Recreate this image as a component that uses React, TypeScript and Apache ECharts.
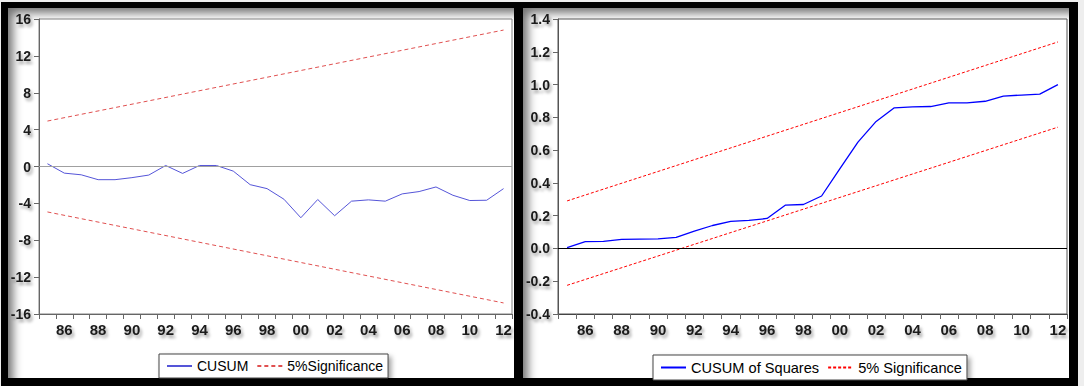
import React, { useEffect, useRef } from "react";
import * as echarts from "echarts";

// ---- data ----
const years = [
  "85", "86", "87", "88", "89", "90", "91", "92", "93", "94",
  "95", "96", "97", "98", "99", "00", "01", "02", "03", "04",
  "05", "06", "07", "08", "09", "10", "11", "12",
];
const cusum = [
  0.3, -0.72, -0.9, -1.43, -1.43, -1.21, -0.93, 0.11, -0.75, 0.11,
  0.11, -0.5, -1.97, -2.4, -3.55, -5.56, -3.58, -5.34, -3.76, -3.62,
  -3.76, -2.97, -2.72, -2.22, -3.12, -3.69, -3.66, -2.4,
];
// 5% significance bounds: value at first and last year
const cusumUpper = [4.93, 14.8];
const cusumLower = [-4.93, -14.8];

const cusumSq = [
  0.005, 0.041, 0.043, 0.055, 0.057, 0.059, 0.067, 0.106, 0.14, 0.165,
  0.171, 0.183, 0.264, 0.268, 0.32, 0.485, 0.649, 0.775, 0.858, 0.864,
  0.866, 0.888, 0.888, 0.898, 0.93, 0.936, 0.942, 1.0,
];
const sqUpper = [0.29, 1.26];
const sqLower = [-0.225, 0.74];

const FONT = "'Liberation Sans', Arial, sans-serif";

const labelShadow = {
  textShadowColor: "rgba(0,0,0,0.35)",
  textShadowBlur: 3,
  textShadowOffsetX: 2,
  textShadowOffsetY: 3,
};

function bound(v: number[]) {
  return [
    [years[0], v[0]],
    [years[years.length - 1], v[1]],
  ];
}

function xAxisFor(gridIndex: number, lineColor: string) {
  return {
    type: "category",
    gridIndex,
    data: years,
    boundaryGap: true,
    axisLine: { show: true, onZero: false, lineStyle: { color: lineColor, width: 1 } },
    axisTick: { show: true, interval: 0, length: 5, lineStyle: { color: "#666" } },
    axisLabel: {
      interval: (i: number) => i % 2 === 1,
      margin: 8,
      color: "#1a1a1a",
      fontFamily: FONT,
      fontSize: 15,
      fontWeight: "bold",
      ...labelShadow,
    },
    splitLine: { show: false },
  };
}

export default function App() {
  const ref = useRef<HTMLDivElement>(null);

  useEffect(() => {
    if (!ref.current) return;
    const chart = echarts.init(ref.current, undefined, { renderer: "svg" });
    const legendBase = {
      orient: "horizontal",
      itemWidth: 25,
      itemHeight: 14,
      itemGap: 8,
      padding: [5, 5, 5, 7],
      borderColor: "#444",
      borderWidth: 1,
      backgroundColor: "#fff",
      shadowColor: "rgba(0,0,0,0.35)",
      shadowBlur: 5,
      shadowOffsetX: 3,
      shadowOffsetY: 3,
      itemStyle: { opacity: 0 },
    };
    chart.setOption({
      animation: false,
      backgroundColor: "transparent",
      grid: [
        {
          left: 39, top: 19, width: 473, height: 295,
          show: true, backgroundColor: "#fff", borderColor: "#808080", borderWidth: 1,
        },
        {
          left: 558, top: 19, width: 509, height: 295,
          show: true, backgroundColor: "#fff", borderColor: "#555", borderWidth: 1,
        },
      ],
      xAxis: [xAxisFor(0, "#666"), xAxisFor(1, "#444")],
      yAxis: [
        {
          type: "value",
          gridIndex: 0,
          min: -16,
          max: 16,
          interval: 4,
          axisLine: { show: true, onZero: false, lineStyle: { color: "#666" } },
          axisTick: { show: true, length: 5, lineStyle: { color: "#666" } },
          axisLabel: {
            color: "#1a1a1a", fontFamily: FONT, fontSize: 14, fontWeight: "bold", margin: 8, ...labelShadow,
          },
          splitLine: { show: false },
        },
        {
          type: "value",
          gridIndex: 1,
          min: -0.4,
          max: 1.4,
          interval: 0.2,
          axisLine: { show: true, onZero: false, lineStyle: { color: "#555" } },
          axisTick: { show: true, length: 5, lineStyle: { color: "#666" } },
          axisLabel: {
            color: "#1a1a1a",
            fontFamily: FONT,
            fontSize: 14,
            fontWeight: "bold",
            margin: 8,
            formatter: (v: number) => v.toFixed(1),
            ...labelShadow,
          },
          splitLine: { show: false },
        },
      ],
      legend: [
        {
          ...legendBase, left: 159, top: 354, data: ["CUSUM", "5%Significance"],
          textStyle: { color: "#000", fontFamily: FONT, fontSize: 14 },
        },
        {
          ...legendBase, left: 653, top: 355, data: ["CUSUM of Squares", "5% Significance"],
          textStyle: { color: "#000", fontFamily: FONT, fontSize: 14.6 },
        },
      ],
      series: [
        {
          name: "CUSUM",
          type: "line",
          xAxisIndex: 0,
          yAxisIndex: 0,
          data: cusum,
          symbol: "none",
          color: "#5555d8",
          lineStyle: { color: "#5555d8", width: 1 },
          markLine: {
            silent: true,
            symbol: ["none", "none"],
            label: { show: false },
            lineStyle: { color: "#a0a0a0", type: "solid", width: 1.2 },
            data: [{ yAxis: 0 }],
          },
          z: 3,
        },
        {
          name: "5%Significance",
          type: "line",
          xAxisIndex: 0,
          yAxisIndex: 0,
          data: bound(cusumUpper),
          symbol: "none",
          color: "#e05050",
          lineStyle: { color: "#e05050", width: 1, type: [4, 3] },
        },
        {
          name: "5%Significance",
          type: "line",
          xAxisIndex: 0,
          yAxisIndex: 0,
          data: bound(cusumLower),
          symbol: "none",
          color: "#e05050",
          lineStyle: { color: "#e05050", width: 1, type: [4, 3] },
        },
        {
          name: "CUSUM of Squares",
          type: "line",
          xAxisIndex: 1,
          yAxisIndex: 1,
          data: cusumSq,
          symbol: "none",
          color: "#0000ff",
          lineStyle: { color: "#0000ff", width: 1.3 },
          markLine: {
            silent: true,
            symbol: ["none", "none"],
            label: { show: false },
            lineStyle: { color: "#000", type: "solid", width: 1.2 },
            data: [{ yAxis: 0 }],
          },
          z: 3,
        },
        {
          name: "5% Significance",
          type: "line",
          xAxisIndex: 1,
          yAxisIndex: 1,
          data: bound(sqUpper),
          symbol: "none",
          color: "#ff0000",
          lineStyle: { color: "#ff0000", width: 1, type: [3, 2] },
        },
        {
          name: "5% Significance",
          type: "line",
          xAxisIndex: 1,
          yAxisIndex: 1,
          data: bound(sqLower),
          symbol: "none",
          color: "#ff0000",
          lineStyle: { color: "#ff0000", width: 1, type: [3, 2] },
        },
      ],
    });
    return () => chart.dispose();
  }, []);

  const inner: React.CSSProperties = {
    position: "absolute",
    top: 8,
    height: 370,
    background: "#fff",
    boxShadow: "inset 8px 8px 10px -3px rgba(0,0,0,0.55)",
  };

  return (
    <div
      style={{
        position: "absolute",
        left: 0,
        top: 0,
        width: 1084,
        height: 386,
        overflow: "hidden",
        background: "#eeeeee",
      }}
    >
      <div style={{ position: "absolute", left: 1, top: 2, width: 1077, height: 384, background: "#000" }} />
      <div style={{ ...inner, left: 8, width: 506 }} />
      <div style={{ ...inner, left: 523, width: 546 }} />
      <div ref={ref} style={{ position: "absolute", left: 0, top: 0, width: 1084, height: 386 }} />
    </div>
  );
}
